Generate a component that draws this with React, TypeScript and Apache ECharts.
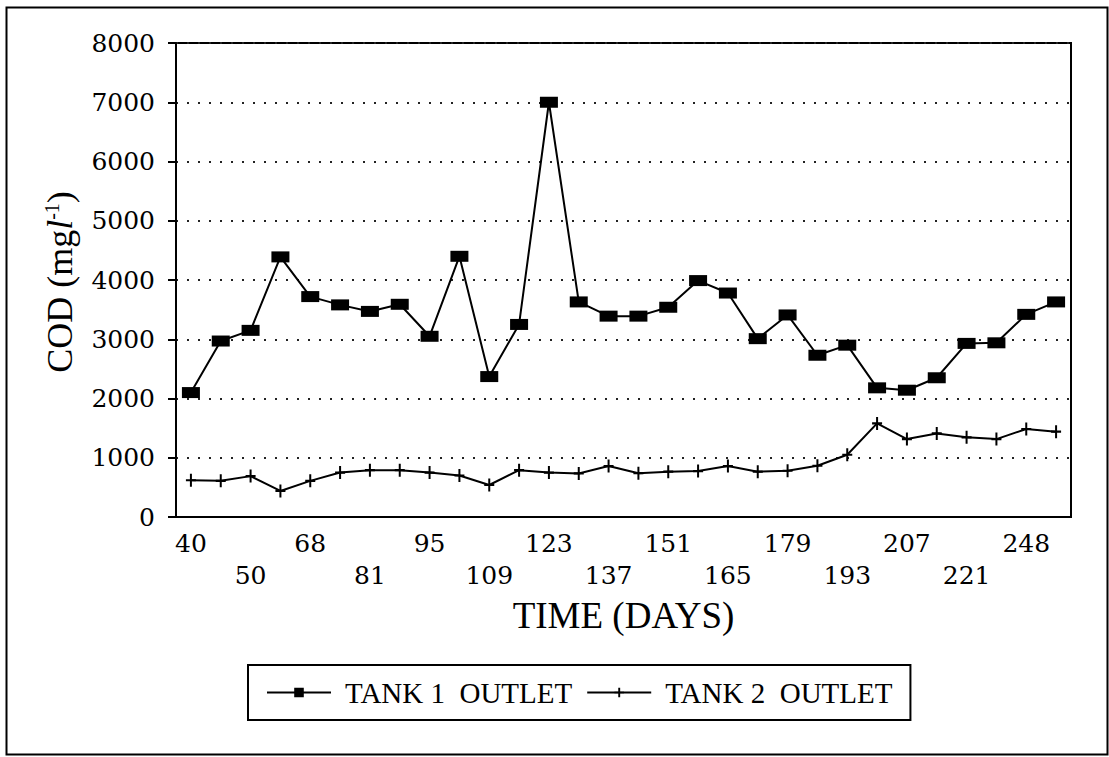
import React, { useEffect, useRef } from "react";
import * as echarts from "echarts";

// x tick labels (only every second sample is labelled in the original)
const dayLabels = [
  "40", "", "50", "", "68", "", "81", "", "95", "", "109", "", "123", "", "137", "",
  "151", "", "165", "", "179", "", "193", "", "207", "", "221", "", "248", "",
];

// COD (mg/l)
const tank1Outlet = [
  2100, 2970, 3150, 4390, 3720, 3580, 3470, 3590, 3050, 4400,
  2370, 3250, 7000, 3630, 3390, 3390, 3540, 3990, 3780, 3010,
  3410, 2730, 2900, 2180, 2140, 2350, 2930, 2940, 3420, 3630,
];
const tank2Outlet = [
  620, 610, 690, 440, 610, 750, 790, 790, 750, 700,
  540, 790, 750, 735, 860, 740, 765, 775, 860, 765,
  780, 865, 1050, 1580, 1315, 1410, 1345, 1315, 1485, 1440,
];

const yTicks = { min: 0, max: 8000, interval: 1000 };
const seriesNames = ["TANK 1  OUTLET", "TANK 2  OUTLET"];

const PLUS = "path://M4,0 H6 V5 H10 V7 H6 V12 H4 V7 H0 V5 H4 Z";

export default function App() {
  const ref = useRef<HTMLDivElement>(null);
  useEffect(() => {
    if (!ref.current) return;
    const chart = echarts.init(ref.current, null, { renderer: "svg" });
    const serif = "DejaVu Serif";
    const times = "Liberation Serif";
    chart.setOption({
      animation: false,
      backgroundColor: "#fff",
      grid: {
        left: 176,
        top: 43,
        width: 895,
        height: 474,
        show: true,
        borderColor: "#000",
        borderWidth: 2,
        backgroundColor: "transparent",
      },
      xAxis: {
        type: "category",
        data: dayLabels.map((_, i) => String(i)),
        boundaryGap: true,
        axisLine: { lineStyle: { color: "#000", width: 2 } },
        axisTick: { alignWithLabel: true, interval: 0, length: 8, lineStyle: { color: "#000", width: 2 } },
        axisLabel: {
          interval: 0,
          margin: 10,
          color: "#000",
          fontFamily: serif,
          fontSize: 25,
          lineHeight: 32,
          formatter: (_v: string, i: number) => {
            const l = dayLabels[i];
            if (!l) return "";
            return i % 4 === 0 ? l : "\n" + l;
          },
        },
        name: "TIME (DAYS)",
        nameLocation: "middle",
        nameGap: 80,
        nameTextStyle: { color: "#000", fontFamily: times, fontSize: 37 },
      },
      yAxis: {
        type: "value",
        min: yTicks.min,
        max: yTicks.max,
        interval: yTicks.interval,
        axisLine: { show: true, lineStyle: { color: "#000", width: 2 } },
        axisTick: { show: true, length: 8, lineStyle: { color: "#000", width: 2 } },
        axisLabel: {
          color: "#000",
          fontFamily: serif,
          fontSize: 25,
          margin: 21,
          formatter: (v: number) => String(v),
        },
        splitLine: {
          show: true,
          lineStyle: { color: "#222", width: 2, type: [2, 9] },
        },
      },
      legend: {
        left: 248,
        top: 665,
        orient: "horizontal",
        borderColor: "#000",
        borderWidth: 2,
        padding: [13, 18, 13, 18],
        itemGap: 14,
        itemWidth: 64,
        itemHeight: 12,
        textStyle: { color: "#000", fontFamily: times, fontSize: 29, padding: [0, 0, 0, 9] },
        data: seriesNames,
      },
      graphic: [
        {
          type: "rect",
          left: 4,
          top: 5,
          shape: { width: 1101, height: 747 },
          style: { fill: "none", stroke: "#000", lineWidth: 2 },
          silent: true,
        },
        {
          type: "text",
          x: 60,
          y: 282,
          rotation: Math.PI / 2,
          style: {
            text: "{a|COD (mg}{i|l}{s|-1}{a|)}",
            fill: "#000",
            align: "center",
            verticalAlign: "middle",
            rich: {
              a: { fontFamily: times, fontSize: 36, fill: "#000" },
              i: { fontFamily: times, fontSize: 36, fontStyle: "italic", fill: "#000" },
              s: { fontFamily: times, fontSize: 20, fill: "#000", verticalAlign: "top", padding: [0, 0, 14, 0] },
            },
          },
        },
      ],
      series: [
        {
          name: seriesNames[0],
          type: "line",
          data: tank1Outlet,
          symbol: "rect",
          symbolSize: [18, 11],
          lineStyle: { color: "#000", width: 2 },
          itemStyle: { color: "#000" },
        },
        {
          name: seriesNames[1],
          type: "line",
          data: tank2Outlet,
          symbol: PLUS,
          symbolSize: [10, 13],
          lineStyle: { color: "#000", width: 2 },
          itemStyle: { color: "#000" },
        },
      ],
    });
    return () => chart.dispose();
  }, []);
  return (
    <div
      ref={ref}
      style={{ position: "fixed", left: 0, top: 0, width: 1109, height: 757, background: "#fff" }}
    />
  );
}
